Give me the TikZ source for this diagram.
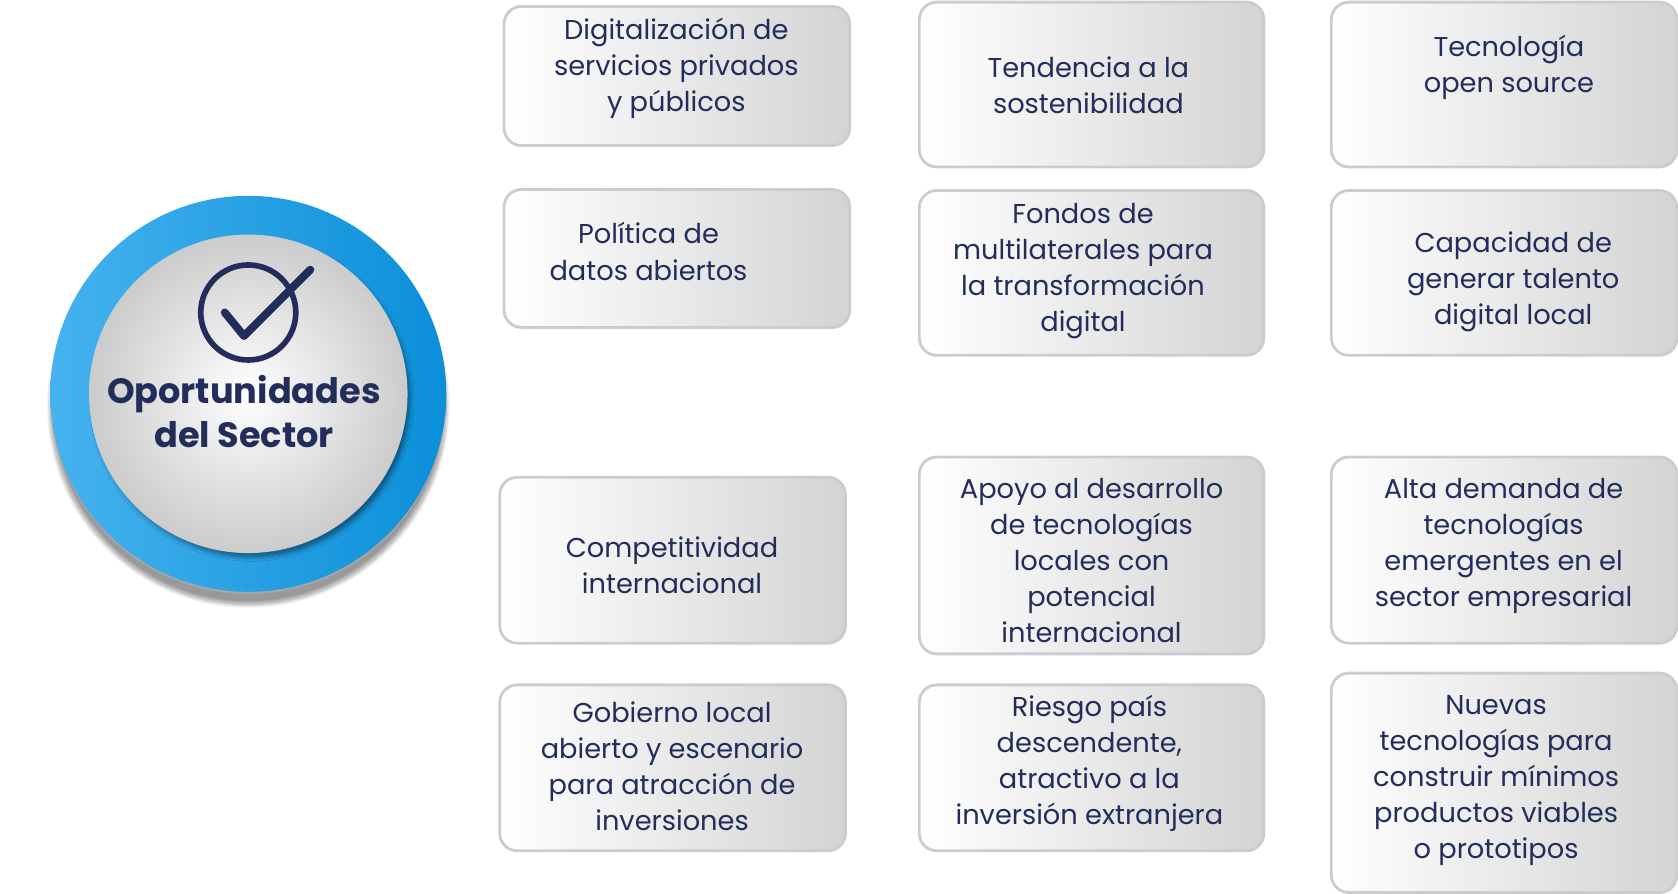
\documentclass[tikz,border=0pt]{standalone}
\usepackage{fontspec}
\setmainfont{Poppins}
\usetikzlibrary{calc,shadows.blur}
\definecolor{navy}{HTML}{232D5C}
\definecolor{rim}{HTML}{C9CDD2}
\definecolor{blueA}{HTML}{0B8FD9}
\definecolor{blueB}{HTML}{45B3EF}
\tikzset{ card/.style = { draw = rim
                        , line width   = 1.6pt
                        , rounded corners = 0.35cm
                        , left color   = white
                        , right color  = black!17
                        },
          lbl/.style  = { align = center
                        , text = navy
                        , font = \fontsize{15.5}{20.5}\selectfont
                        }
        }
\begin{document}
\begin{tikzpicture}[x=0.0214cm, y=-0.0214cm]
    \useasboundingbox (0,0) rectangle (1568,835);
    % cards
    \foreach \n/\xa/\ya/\xb/\yb/\tx/\ty/\t in {
        a1/470/5/795/137/632/64/{Digitalización de\\servicios privados\\y públicos},
        b1/858/1/1182/157/1017/80/{Tendencia a la\\sostenibilidad},
        c1/1243/1/1568/157/1410/63/{Tecnología\\open source},
        a2/470/176/795/307/606/235/{Política de\\datos abiertos},
        b2/858/177/1182/333/1012/253/{Fondos de\\multilaterales para\\la transformación\\digital},
        c2/1243/177/1568/333/1414/263/{Capacidad de\\generar talento\\digital local},
        a3/466/445/791/602/628/528/{Competitividad\\internacional},
        b3/858/426/1182/612/1020/524/{Apoyo al desarrollo\\de tecnologías\\locales con\\potencial\\internacional},
        c3/1243/426/1568/602/1405/510/{Alta demanda de\\tecnologías\\emergentes en el\\sector empresarial},
        a4/466/639/791/796/628/716/{Gobierno local\\abierto y escenario\\para atracción de\\inversiones},
        b4/858/639/1182/796/1018/713/{Riesgo país\\descendente,\\atractivo a la\\inversión extranjera},
        c4/1243/628/1568/835/1398/729/{Nuevas\\tecnologías para\\construir mínimos\\productos viables\\o prototipos}} {
      \draw[card] (\xa+1,\ya+1) rectangle (\xb-1,\yb-1);
      \node[lbl] (\n) at (\tx,\ty) {\t};
    }
    % badge
    \fill[black!35, blur shadow={shadow blur steps=12, shadow xshift=0pt,
          shadow yshift=-6pt, shadow opacity=40}] (232,370) circle (185);
    \shade[left color=blueB, right color=blueA] (232,368) circle (185);
    \shade[inner color=white, outer color=black!20,
           blur shadow={shadow xshift=2pt, shadow yshift=-3pt}] (232,368) circle (148);
    \draw[black!20, line width=1pt] (232,368) circle (148);
    \node[draw=navy, line width=3.2pt, circle, minimum size=1.9cm] (tick) at (232,292) {};
    \draw[navy, line width=4.5pt, line cap=round, line join=round]
      ($(tick.center)+(-22,0)$) -- ($(tick.center)+(-4,22)$) -- ($(tick.center)+(58,-40)$);
    \node[align=center, text=navy, font=\bfseries\fontsize{20}{25}\selectfont]
      (title) at (228,385) {Oportunidades\\del Sector};
\end{tikzpicture}
\end{document}
